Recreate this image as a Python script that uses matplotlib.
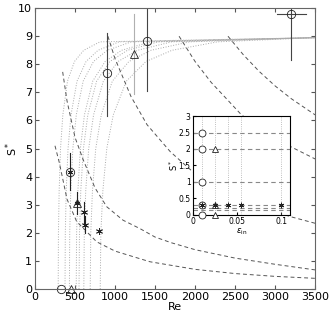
import numpy as np
import matplotlib
matplotlib.use('Agg')
import matplotlib.pyplot as plt

# --- dotted curves S*(Re): Re positions of each curve at the common S levels
dot_s = [0, 2.0, 3.5, 5.0, 6.2, 7.4, 8.1, 8.5, 8.8, 8.95]
dot_re = [
    [290, 293, 302, 319, 348, 406, 493, 609, 812, 3500],
    [375, 379, 390, 413, 450, 525, 638, 788, 1050, 3500],
    [430, 434, 447, 473, 516, 602, 731, 903, 1204, 3500],
    [515, 520, 536, 567, 618, 721, 876, 1082, 1442, 3500],
    [550, 556, 572, 605, 660, 770, 935, 1155, 1540, 3500],
    [610, 616, 634, 671, 732, 854, 1037, 1281, 1708, 3500],
    [690, 697, 718, 759, 828, 966, 1173, 1449, 1932, 3500],
    [815, 823, 848, 897, 978, 1141, 1386, 1712, 2282, 3500],
]

# --- dashed curves
dash_curves = [
    ([250, 304, 400, 521, 771, 1000, 1229, 1437, 1688, 2000, 2500, 3000, 3500],
     [5.1, 4.5, 3.2, 2.4, 1.68, 1.35, 1.15, 0.97, 0.85, 0.7, 0.55, 0.45, 0.38]),
    ([346, 400, 500, 604, 750, 896, 1100, 1312, 1500, 1700, 2000, 2500, 3000, 3500],
     [7.73, 6.7, 5.4, 4.59, 3.6, 2.93, 2.45, 2.15, 1.85, 1.65, 1.4, 1.1, 0.88, 0.68]),
    ([911, 1000, 1200, 1400, 1690, 2000, 2400, 2800, 3200, 3500],
     [9.0, 8.2, 6.85, 5.85, 4.89, 4.1, 3.42, 2.93, 2.57, 2.34]),
    ([1800, 2000, 2200, 2400, 2583, 2800, 3000, 3200, 3500],
     [9.0, 8.1, 7.36, 6.75, 6.19, 5.8, 5.4, 5.06, 4.63]),
    ([2411, 2600, 2800, 3000, 3200, 3500],
     [9.0, 8.35, 7.75, 7.23, 6.78, 6.2]),
]

# --- measured points (Re, S*, lower, upper)
circ_re = [900, 1400, 3200]
circ_s = [7.7, 8.83, 9.8]
circ_lo = [6.15, 7.05, 8.17]
circ_hi = [9.13, 10.3, 10.3]
circ_xerr_lo = [0, 0, 180]
circ_xerr_hi = [0, 0, 185]

cstar_re = [440]
cstar_s = [4.17]
cstar_lo = [3.52]
cstar_hi = [4.83]

tri_re = [1240]
tri_s = [8.36]
tri_lo = [6.93]
tri_hi = [9.78]

tstar_re = [525]
tstar_s = [3.08]
tstar_lo = [2.67]
tstar_hi = [3.46]

star_re = [617, 630, 804]
star_s = [2.73, 2.27, 2.07]
star_lo = [2.3, 2.0, 2.07]
star_hi = [3.1, 2.6, 2.07]

zero_circ_re = [325]
zero_tri_re = [446]

# --- inset data
eps_grid = [0.01, 0.025, 0.04, 0.055, 0.1]
s_levels = [2.5, 2.0, 1.0, 0.3, 0.2, 0.15]
in_circ_eps = [0.01, 0.01, 0.01, 0.01, 0.01]
in_circ_s = [2.5, 2.0, 1.0, 0.3, 0.0]
in_tri_eps = [0.025, 0.025, 0.025]
in_tri_s = [2.0, 0.3, 0.0]
in_star_eps = [0.01, 0.025, 0.04, 0.055, 0.1]
in_star_s = [0.3, 0.3, 0.3, 0.3, 0.3]

fig = plt.figure(figsize=(3.3, 3.17), dpi=100)
ax = fig.add_axes([0.106, 0.0883, 0.849, 0.886])

dotc = '#aaaaaa'
dashc = '#555555'
for re in dot_re:
    ax.plot(re, dot_s, ls=':', color=dotc, lw=0.7)
for re, s in dash_curves:
    ax.plot(re, s, ls=(0, (4, 3)), color=dashc, lw=0.7)

dk = '#222222'
ms = 6
asterisk = (6, 2, 0)

def ebar(x, y, lo, hi, color):
    for xi, yi, l, h in zip(x, y, lo, hi):
        ax.plot([xi, xi], [l, h], color=color, lw=0.8)

ebar(circ_re, circ_s, circ_lo, circ_hi, '#444444')
for xi, yi, l, h in zip(circ_re, circ_s, circ_xerr_lo, circ_xerr_hi):
    if l > 0:
        ax.plot([xi - l, xi + h], [yi, yi], color='#444444', lw=0.8)
ax.plot(circ_re, circ_s, 'o', mfc='none', mec=dk, ms=ms, mew=0.6)

ebar(cstar_re, cstar_s, cstar_lo, cstar_hi, dk)
ax.plot(cstar_re, cstar_s, 'o', mfc='none', mec=dk, ms=ms, mew=0.6)
ax.plot(cstar_re, cstar_s, marker=asterisk, ls='none', color=dk, ms=4, mew=0.6)

ebar(tri_re, tri_s, tri_lo, tri_hi, '#b0b0b0')
ax.plot(tri_re, tri_s, '^', mfc='none', mec=dk, ms=ms, mew=0.6)

ebar(tstar_re, tstar_s, tstar_lo, tstar_hi, dk)
ax.plot(tstar_re, tstar_s, '^', mfc='none', mec=dk, ms=ms, mew=0.6)
ax.plot(tstar_re, tstar_s, marker=asterisk, ls='none', color=dk, ms=4, mew=0.6)

ebar(star_re, star_s, star_lo, star_hi, dk)
ax.plot(star_re, star_s, marker=asterisk, ls='none', color=dk, ms=5, mew=0.6)

ax.plot(zero_circ_re, [0] * len(zero_circ_re), 'o', mfc='none', mec=dk, ms=ms, mew=0.6, clip_on=False)
ax.plot(zero_tri_re, [0] * len(zero_tri_re), '^', mfc='none', mec=dk, ms=ms, mew=0.6, clip_on=False)

ax.set_xlim(0, 3500)
ax.set_ylim(0, 10)
ax.set_xticks(np.arange(0, 3501, 500))
ax.set_yticks(np.arange(0, 11, 1))
ax.tick_params(direction='in', top=True, right=True, length=3, labelsize=8, pad=2, color='#555555')
for sp in ax.spines.values():
    sp.set_color('#666666')
ax.set_xlabel('Re', fontsize=8, labelpad=0)
ax.set_ylabel(r'S$^*$', fontsize=8, labelpad=-1)

# inset
ax2 = fig.add_axes([0.584, 0.322, 0.295, 0.312])
for e in eps_grid:
    ax2.axvline(e, ls=':', color=dotc, lw=0.6)
for lv in s_levels:
    ax2.axhline(lv, ls=(0, (4, 3)), color='#888888', lw=0.8)
ax2.plot(in_circ_eps, in_circ_s, 'o', mfc='white', mec=dk, ms=5, mew=0.6, clip_on=False, zorder=3)
ax2.plot(in_tri_eps, in_tri_s, '^', mfc='white', mec=dk, ms=5, mew=0.6, clip_on=False, zorder=3)
ax2.plot(in_star_eps, in_star_s, marker=asterisk, ls='none', color=dk, ms=4, mew=0.6, zorder=4)
ax2.set_xlim(0, 0.11)
ax2.set_ylim(0, 3)
ax2.set_xticks([0, 0.05, 0.1])
ax2.set_xticklabels(['0', '0.05', '0.1'])
ax2.set_yticks(np.arange(0, 3.01, 0.5))
ax2.set_yticklabels(['0', '0.5', '1', '1.5', '2', '2.5', '3'])
ax2.tick_params(direction='in', length=2, labelsize=5.5, pad=1.5)
ax2.set_xlabel(r'$\varepsilon_{\rm in}$', fontsize=6, labelpad=0)
ax2.set_ylabel(r'S$^*$', fontsize=6, labelpad=-1)

fig.savefig('out.png', dpi=100)
